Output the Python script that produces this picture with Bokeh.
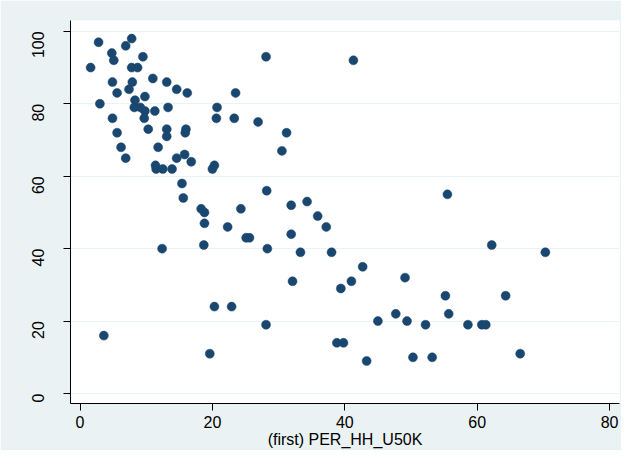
import math
from bokeh.plotting import figure
from bokeh.models import ColumnDataSource, Range1d, FixedTicker
from bokeh.embed import file_html
from bokeh.resources import INLINE

# (first) PER_HH_U50K  vs  outcome
per_hh_u50k = [1.6, 2.8, 3.0, 3.6, 4.8, 5.1, 4.9, 5.6, 4.9, 5.6, 6.2, 6.9, 6.9, 7.8, 7.4,
               7.8, 8.7, 9.5, 7.9, 8.3, 8.2, 9.1, 9.8, 9.8, 9.7, 10.3, 11.0, 11.3, 11.8,
               11.4, 11.5, 12.5, 13.1, 13.3, 13.1, 13.1, 14.6, 14.6, 13.9, 16.2, 15.8,
               16.0, 15.9, 16.8, 15.4, 15.6, 18.3, 18.8, 18.8, 18.7, 12.4, 20.3, 20.0,
               20.7, 20.6, 20.3, 19.6, 28.1, 41.3, 23.5, 23.3, 26.9, 31.2, 30.5, 28.2,
               22.3, 24.3, 31.9, 34.3, 35.9, 37.2, 25.1, 25.6, 31.9, 28.3, 33.3, 38.0,
               42.7, 32.1, 41.0, 39.4, 49.1, 22.9, 28.1, 47.7, 45.0, 49.4, 38.8, 39.8,
               43.3, 50.3, 53.2, 52.2, 55.5, 62.2, 70.3, 55.2, 64.3, 55.7, 58.6, 60.7,
               61.3, 66.5]
outcome = [90, 97, 80, 16, 94, 92, 86, 83, 76, 72, 68, 65, 96, 98, 84,
           90, 90, 93, 86, 81, 79, 79, 78, 82, 76, 73, 87, 78, 68,
           63, 62, 62, 86, 79, 73, 71, 84, 65, 62, 83, 66,
           73, 72, 64, 58, 54, 51, 50, 47, 41, 40, 63, 62,
           79, 76, 24, 11, 93, 92, 83, 76, 75, 72, 67, 56,
           46, 51, 52, 53, 49, 46, 43, 43, 44, 40, 39, 39,
           35, 31, 31, 29, 32, 24, 19, 22, 20, 20, 14, 14,
           9, 10, 10, 19, 55, 41, 39, 27, 27, 22, 19, 19,
           19, 11]

x_ticks = [0, 20, 40, 60, 80]
y_ticks = [0, 20, 40, 60, 80, 100]
x_title = "(first) PER_HH_U50K"

BG = "#EAF2F3"
NAVY = "#1A476F"
FONT = "Liberation Sans"

p = figure(width=621, height=450, output_backend="svg", toolbar_location=None,
           x_range=Range1d(-1.44, 81.5), y_range=Range1d(-2.75, 103.0),
           min_border_left=70, min_border_right=2, min_border_top=20, min_border_bottom=46)
p.background_fill_color = "white"
p.border_fill_color = BG
p.outline_line_color = None

src = ColumnDataSource(dict(x=per_hh_u50k, y=outcome))
p.scatter("x", "y", source=src, size=9, fill_color=NAVY, line_color=NAVY, line_width=0.5)

p.xgrid.visible = False
p.ygrid.grid_line_color = BG
p.ygrid.grid_line_width = 1.2
p.ygrid.ticker = FixedTicker(ticks=y_ticks)

for ax in (p.xaxis[0], p.yaxis[0]):
    ax.axis_line_color = "black"
    ax.axis_line_width = 1
    ax.major_tick_line_color = "black"
    ax.major_tick_out = 7
    ax.major_tick_in = 0
    ax.minor_tick_line_color = None
    ax.major_label_text_font = FONT
    ax.major_label_text_font_size = "16px"
    ax.major_label_text_color = "black"

p.xaxis[0].ticker = FixedTicker(ticks=x_ticks)
p.yaxis[0].ticker = FixedTicker(ticks=y_ticks)
p.xaxis[0].major_label_standoff = 5
p.yaxis[0].major_label_standoff = 25
p.yaxis[0].major_label_orientation = math.pi / 2

p.xaxis[0].axis_label = x_title
p.xaxis[0].axis_label_text_font = FONT
p.xaxis[0].axis_label_text_font_size = "16px"
p.xaxis[0].axis_label_text_font_style = "normal"
p.xaxis[0].axis_label_text_color = "black"
p.xaxis[0].axis_label_standoff = 0

open("out.html", "w").write(file_html(p, INLINE))
